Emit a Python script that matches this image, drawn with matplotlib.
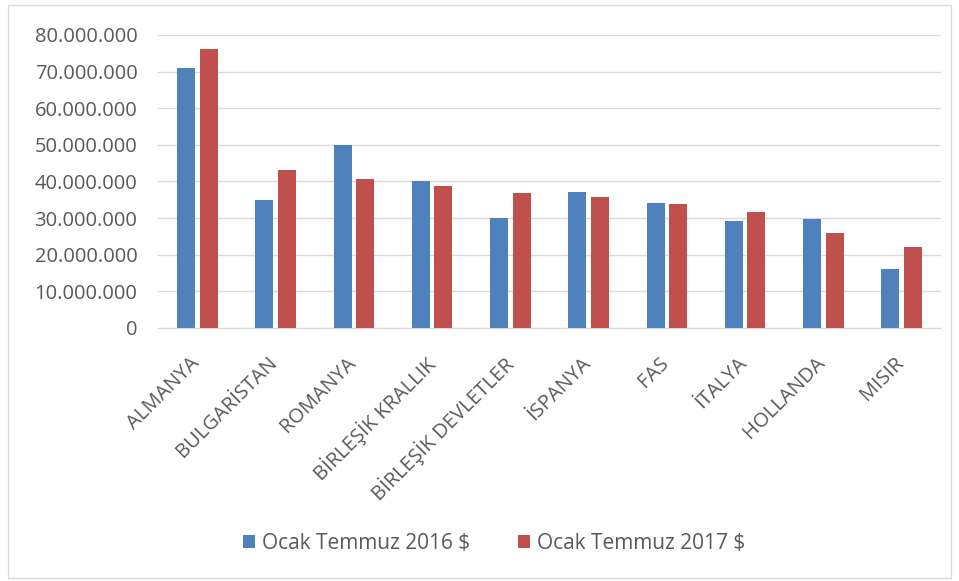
import matplotlib.pyplot as plt
import numpy as np
from matplotlib.patches import Rectangle
from matplotlib.ticker import FuncFormatter
from matplotlib.transforms import ScaledTranslation

plt.rcParams['font.family'] = ['Open Sans', 'DejaVu Sans']

countries = ["ALMANYA", "BULGARİSTAN", "ROMANYA", "BİRLEŞİK KRALLIK",
             "BİRLEŞİK DEVLETLER", "İSPANYA", "FAS", "İTALYA", "HOLLANDA", "MISIR"]
val_2016 = [71.0e6, 35.0e6, 50.0e6, 40.2e6, 30.0e6, 37.2e6, 34.2e6, 29.2e6, 29.8e6, 16.2e6]
val_2017 = [76.2e6, 43.2e6, 40.7e6, 38.8e6, 36.9e6, 35.8e6, 33.8e6, 31.6e6, 26.0e6, 22.0e6]
series_labels = ["Ocak Temmuz 2016 $", "Ocak Temmuz 2017 $"]

BLUE = "#4f81bd"
RED = "#c0504d"
TEXT = "#595959"

fig = plt.figure(figsize=(9.59, 5.81), dpi=100)
ax = fig.add_axes([0.165, 0.4355, 0.816, 0.5043])

# chart frame
fig.patches.append(Rectangle((0.008, 0.006), 0.984, 0.986, transform=fig.transFigure,
                             fill=False, edgecolor="#d9d9d9", lw=1.0))

x = np.arange(len(countries))
w = 0.23
ax.bar(x - w / 2 - 0.03, val_2016, w, color=BLUE, label=series_labels[0], zorder=3)
ax.bar(x + w / 2 + 0.03, val_2017, w, color=RED, label=series_labels[1], zorder=3)

ax.set_xlim(-0.5, len(countries) - 0.5)
ax.set_ylim(0, 80e6)
ax.set_yticks(np.arange(0, 80e6 + 1, 10e6))
ax.yaxis.set_major_formatter(FuncFormatter(lambda v, p: f"{int(v):,}".replace(",", ".")))
ax.grid(axis="y", color="#d9d9d9", lw=1, zorder=0)

for s in ["top", "right", "left"]:
    ax.spines[s].set_visible(False)
ax.spines["bottom"].set_color("#d9d9d9")

ax.tick_params(axis="both", length=0, colors=TEXT, labelsize=14.5)
ax.tick_params(axis="y", pad=15)
ax.tick_params(axis="x", pad=18)
ax.set_xticks(x)
ax.set_xticklabels(countries, rotation=45, ha="right", va="top",
                   rotation_mode="anchor", fontsize=14.5)
# nudge rotated labels a little to the left, as in the original
shift = ScaledTranslation(-8 / 100, 0, fig.dpi_scale_trans)
for lbl in ax.get_xticklabels():
    lbl.set_transform(lbl.get_transform() + shift)

fig.legend(loc="center", bbox_to_anchor=(0.515, 0.065), ncol=2, frameon=False,
           fontsize=15, labelcolor=TEXT, handlelength=0.6, handleheight=0.6,
           handletextpad=0.3, columnspacing=2.3)

fig.savefig("out.png", dpi=100)
